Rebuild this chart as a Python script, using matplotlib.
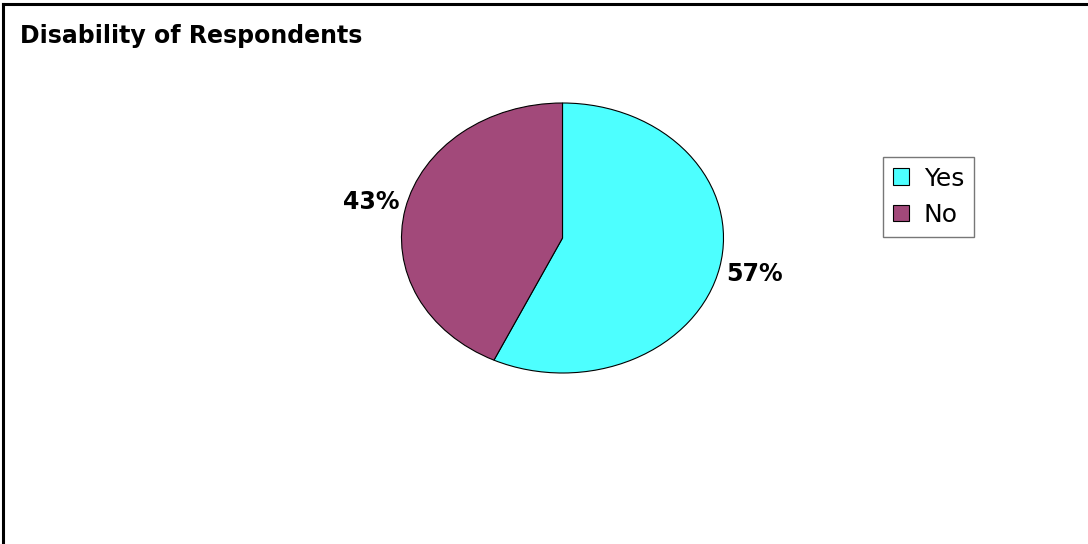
import matplotlib
matplotlib.use("Agg")
import matplotlib.pyplot as plt
from matplotlib.lines import Line2D
from matplotlib.patches import Patch

plt.rcParams['font.family'] = ['DejaVu Sans']

title = "Disability of Respondents"
categories = ["Yes", "No"]
shares = [57, 43]
colors = ["#4DFFFF", "#A2497A"]

W, H = 1088, 544
fig = plt.figure(figsize=(W / 100, H / 100), dpi=100)

# elliptical pie area (pixel box)
cx, cy, rx, ry = 562.5, 238, 161, 135
ax = fig.add_axes([(cx - rx) / W, (H - cy - ry) / H, 2 * rx / W, 2 * ry / H])
wedges, _, autotexts = ax.pie(
    shares, colors=colors, startangle=90, counterclock=False,
    autopct=lambda p: f"{p:.0f}%", pctdistance=1.22,
    wedgeprops=dict(edgecolor="black", linewidth=0.8),
    textprops=dict(fontsize=17, fontweight="bold", color="black"),
)
ax.set_aspect("auto")
ax.set_xlim(-1, 1)
ax.set_ylim(-1, 1)
for t in autotexts:
    t.set_clip_on(False)

fig.text(20 / W, 1 - 43 / H, title, fontsize=17, fontweight="bold",
         ha="left", va="baseline")

handles = [Patch(facecolor=c, edgecolor="black", linewidth=0.8) for c in colors]
leg = fig.legend(handles, categories, loc="upper left",
                 bbox_to_anchor=(883 / W, 1 - 157 / H), frameon=True,
                 fancybox=False, edgecolor="#555555", fontsize=18,
                 handlelength=0.64, handleheight=0.64, handletextpad=0.62,
                 borderpad=0.38, labelspacing=0.5, borderaxespad=0)
leg.get_frame().set_linewidth(1.0)

# outer frame: top and left edges
fig.add_artist(Line2D([3 / W, 1], [1 - 3.5 / H, 1 - 3.5 / H], transform=fig.transFigure,
                      color="black", linewidth=2.2))
fig.add_artist(Line2D([3 / W, 3 / W], [0, 1 - 3.5 / H], transform=fig.transFigure,
                      color="black", linewidth=2.2))

fig.savefig("out.png", dpi=100)
